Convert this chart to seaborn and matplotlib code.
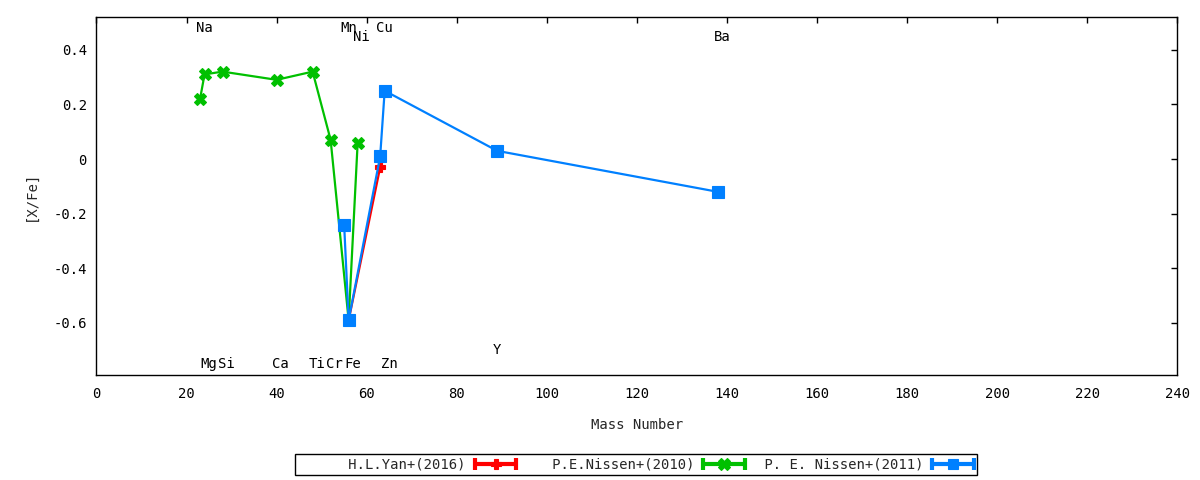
import matplotlib
matplotlib.use("Agg")
import numpy as np
import pandas as pd
import seaborn as sns
import matplotlib.pyplot as plt
from matplotlib.lines import Line2D
from matplotlib.legend_handler import HandlerLine2D, HandlerTuple

# [X/Fe] against mass number, three sources
yan_mass = [56, 63]
yan_xfe = [-0.59, -0.03]

nissen10_mass = [23, 24, 28, 40, 48, 52, 56, 58]
nissen10_xfe = [0.22, 0.31, 0.32, 0.29, 0.32, 0.07, -0.59, 0.06]

nissen11_mass = [55, 56, 63, 64, 89, 138]
nissen11_xfe = [-0.24, -0.59, 0.01, 0.25, 0.03, -0.12]

series_names = ["H.L.Yan+(2016)", "P.E.Nissen+(2010)", "P. E. Nissen+(2011)"]
series_colors = ["#ff0000", "#00c000", "#0080ff"]
series_markers = ["P", "X", "s"]

# element labels: name, mass number, label height
elem_names = ["Na", "Mg", "Si", "Ca", "Ti", "Cr", "Mn", "Fe", "Ni", "Cu", "Zn", "Y", "Ba"]
elem_mass = [23, 24, 28, 40, 48, 52, 55, 56, 58, 63, 64, 89, 138]
elem_y = [0.48, -0.75, -0.75, -0.75, -0.75, -0.75, 0.48, -0.75, 0.445, 0.48, -0.75, -0.70, 0.445]

df = pd.concat([
    pd.DataFrame({"mass": yan_mass, "xfe": yan_xfe, "src": series_names[0]}),
    pd.DataFrame({"mass": nissen10_mass, "xfe": nissen10_xfe, "src": series_names[1]}),
    pd.DataFrame({"mass": nissen11_mass, "xfe": nissen11_xfe, "src": series_names[2]}),
])

sns.set_theme(style="white")
plt.rcParams['font.family'] = ['DejaVu Sans Mono', 'DejaVu Sans']
plt.rcParams['font.size'] = 10

fig = plt.figure(figsize=(12, 4.8), dpi=100)
ax = fig.add_axes([0.0804, 0.219, 0.9006, 0.7456])

msizes = [7, 8.5, 8]
for name, col, mk, ms in zip(series_names, series_colors, series_markers, msizes):
    sub = df[df["src"] == name]
    sns.lineplot(data=sub, x="mass", y="xfe", ax=ax, color=col, lw=1.6,
                 marker=mk, markersize=ms, markeredgecolor=col, markeredgewidth=0.8,
                 sort=False, estimator=None, legend=False)

for nm, m, yy in zip(elem_names, elem_mass, elem_y):
    ax.annotate(nm, xy=(m, yy), xytext=(-3, 0), textcoords="offset points",
                ha="left", va="center", fontsize=10, color="black")

ax.set_xlim(0, 240)
ax.set_ylim(-0.79, 0.52)
ax.set_xticks(np.arange(0, 241, 20))
ax.set_yticks([-0.6, -0.4, -0.2, 0, 0.2, 0.4])
ax.set_yticklabels(["-0.6", "-0.4", "-0.2", "0", "0.2", "0.4"])
ax.tick_params(direction="in", length=4, width=1, top=True, right=True,
               labelsize=10, colors="black")
ax.tick_params(axis="x", pad=9)
ax.tick_params(axis="y", pad=7)
for sp in ax.spines.values():
    sp.set_color("black")
    sp.set_linewidth(1)
ax.set_xlabel("Mass Number", fontsize=10, labelpad=12)
ax.set_ylabel("[X/Fe]", fontsize=10, labelpad=11)

# gnuplot-like key entries: right-justified text, line with end caps and a point
key_labels = [s.rjust(20) for s in series_names]
handles = []
hmap = {}
for col, mk, ms in zip(series_colors, series_markers, msizes):
    cap = Line2D([], [], color=col, lw=3, marker="|", markersize=8, markeredgewidth=3)
    pt = Line2D([], [], color=col, lw=0, marker=mk, markersize=ms - 0.5,
                markeredgecolor=col, markeredgewidth=0.8)
    hmap[cap] = HandlerLine2D(numpoints=2, marker_pad=0)
    hmap[pt] = HandlerLine2D(numpoints=1)
    handles.append((cap, pt))
hmap[tuple] = HandlerTuple(ndivide=1, pad=0)

leg = fig.legend(handles, key_labels, handler_map=hmap, ncol=3,
                 loc="center", bbox_to_anchor=(0.5300, 0.0325),
                 markerfirst=False, frameon=True, fancybox=False,
                 edgecolor="black", framealpha=1, fontsize=10,
                 handlelength=3.0, handletextpad=0.65, columnspacing=0.76,
                 borderpad=0.25, borderaxespad=0)
leg.get_frame().set_linewidth(1)

fig.savefig("out.png", dpi=100)
